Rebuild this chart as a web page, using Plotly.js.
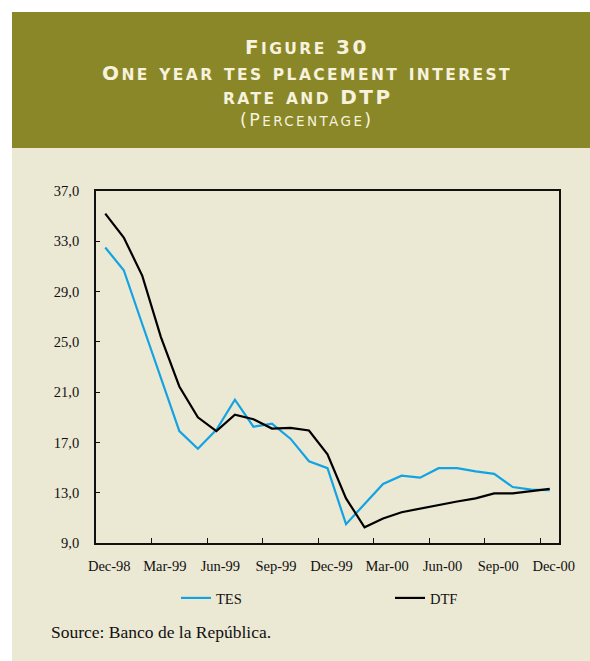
<!DOCTYPE html>
<html>
<head>
<meta charset="utf-8">
<script src="https://cdn.plot.ly/plotly-3.0.1.min.js"></script>
<style>
  html, body { margin: 0; padding: 0; background: #ffffff; }
  #chart { width: 590px; height: 661px; }
</style>
</head>
<body>
<div id="chart"></div>
<script>
// months on the category axis
const months = [
  "Dec-98", "Jan-99", "Feb-99", "Mar-99", "Apr-99", "May-99", "Jun-99",
  "Jul-99", "Aug-99", "Sep-99", "Oct-99", "Nov-99", "Dec-99",
  "Jan-00", "Feb-00", "Mar-00", "Apr-00", "May-00", "Jun-00",
  "Jul-00", "Aug-00", "Sep-00", "Oct-00", "Nov-00", "Dec-00",
];

// labelled months (every quarter)
const tickMonths = [
  "Dec-98", "Mar-99", "Jun-99", "Sep-99", "Dec-99",
  "Mar-00", "Jun-00", "Sep-00", "Dec-00",
];

// one year TES placement rate (%)
const tes = [
  32.5, 30.7, 26.4, 22.2, 17.9, 16.5, 18.0, 20.4, 18.25, 18.5, 17.3, 15.5,
  14.95, 10.5, 12.1, 13.7, 14.35, 14.2, 14.95, 14.95, 14.7, 14.5, 13.45,
  13.25, 13.2,
];

// DTF (%)
const dtf = [
  35.2, 33.3, 30.25, 25.4, 21.45, 19.0, 17.9, 19.2, 18.85, 18.1, 18.15,
  17.95, 16.05, 12.55, 10.25, 10.95, 11.45, 11.75, 12.05, 12.3, 12.55,
  12.95, 12.95, 13.1, 13.3,
];

const titleLines = [
  "Figure 30",
  "One year tes placement interest",
  "rate and DTP",
  "(Percentage)",
];
const sourceText = "Source: Banco de la República.";

const OLIVE = "#8a8728";
const BEIGE = "#ebe8d4";
const BLUE = "#14a3e2";

// pixel -> paper helpers (plot area is 96..559 x 191..543)
const M = { l: 96, r: 31, t: 191, b: 118 };
const W = 590, H = 661;
const pw = W - M.l - M.r, ph = H - M.t - M.b;
const px = (v) => (v - M.l) / pw;
const py = (v) => (H - M.b - v) / ph;

// fake small caps: capitals/digits big, lower case letters small
function smallCaps(str, big, small, spacing) {
  let out = "";
  for (const ch of str) {
    const isLower = ch !== ch.toUpperCase();
    const size = isLower ? small : big;
    out += `<span style="font-size:${size}px;letter-spacing:${spacing}px">${ch.toUpperCase()}</span>`;
  }
  return out;
}

// quarter tick marks sit on category boundaries
const boundaryTicks = tickMonths.slice(1).map((m) => months.indexOf(m) - 0.5);

const traces = [
  {
    x: months,
    y: tes,
    name: "TES",
    type: "scatter",
    mode: "lines",
    line: { color: BLUE, width: 2.2 },
    legend: "legend",
  },
  {
    x: months,
    y: dtf,
    name: "DTF",
    type: "scatter",
    mode: "lines",
    line: { color: "#000000", width: 2.2 },
    legend: "legend2",
  },
  {
    x: [],
    y: [],
    xaxis: "x2",
    showlegend: false,
    hoverinfo: "skip",
  },
];

const titleY = [47, 73, 97, 120];
const annotations = titleLines.map((t, i) => ({
  text: i < 3 ? smallCaps(t, 20, 15.5, 2.4) : smallCaps(t, 17.5, 13.5, 2.4),
  xref: "paper",
  yref: "paper",
  x: px(307),
  y: py(titleY[i]),
  xanchor: "center",
  yanchor: "middle",
  showarrow: false,
  font: {
    family: "DejaVu Sans",
    color: "#f6f2de",
    weight: i < 3 ? "bold" : "normal",
  },
}));

annotations.push({
  text: sourceText,
  xref: "paper",
  yref: "paper",
  x: px(49),
  y: py(632),
  xanchor: "left",
  yanchor: "middle",
  showarrow: false,
  font: { family: "Liberation Serif", size: 17.5, color: "#111111" },
});

const legendBase = {
  orientation: "h",
  xanchor: "left",
  y: py(598),
  yanchor: "middle",
  bgcolor: "rgba(0,0,0,0)",
  font: { family: "Liberation Serif", size: 14.5, color: "#111111" },
};

const layout = {
  width: W,
  height: H,
  margin: M,
  paper_bgcolor: "#ffffff",
  plot_bgcolor: BEIGE,
  separators: ", ",
  showlegend: true,
  font: { family: "Liberation Serif", size: 14.5, color: "#111111" },
  shapes: [
    {
      type: "rect", xref: "paper", yref: "paper", layer: "below",
      x0: px(12), x1: px(590), y0: py(661), y1: py(148),
      fillcolor: BEIGE, line: { width: 0 },
    },
    {
      type: "rect", xref: "paper", yref: "paper", layer: "below",
      x0: px(12), x1: px(590), y0: py(148), y1: py(12),
      fillcolor: OLIVE, line: { width: 0 },
    },
  ],
  annotations: annotations,
  xaxis: {
    type: "category",
    range: [-0.5, months.length - 0.5],
    tickmode: "array",
    tickvals: tickMonths,
    ticktext: tickMonths,
    ticks: "",
    showgrid: false,
    zeroline: false,
    showline: true,
    linecolor: "#111111",
    linewidth: 1.8,
    mirror: true,
    ticklabelshift: 4,
    ticklabelstandoff: 9,
    tickfont: { size: 14.5 },
  },
  xaxis2: {
    overlaying: "x",
    anchor: "y",
    side: "bottom",
    range: [-0.5, months.length - 0.5],
    tickmode: "array",
    tickvals: boundaryTicks,
    ticks: "inside",
    ticklen: 5,
    tickwidth: 1.2,
    tickcolor: "#111111",
    showticklabels: false,
    showgrid: false,
    zeroline: false,
    showline: false,
  },
  yaxis: {
    range: [9, 37],
    tickmode: "linear",
    tick0: 9,
    dtick: 4,
    tickformat: ".1f",
    ticks: "inside",
    ticklen: 4,
    tickwidth: 1.2,
    tickcolor: "#111111",
    showgrid: false,
    zeroline: false,
    showline: true,
    linecolor: "#111111",
    linewidth: 1.8,
    mirror: true,
    ticklabelstandoff: 12,
    tickfont: { size: 14.5 },
  },
  legend: Object.assign({}, legendBase, { x: px(176) }),
  legend2: Object.assign({}, legendBase, { x: px(390) }),
};

Plotly.newPlot("chart", traces, layout, { displayModeBar: false, responsive: false });
</script>
</body>
</html>
